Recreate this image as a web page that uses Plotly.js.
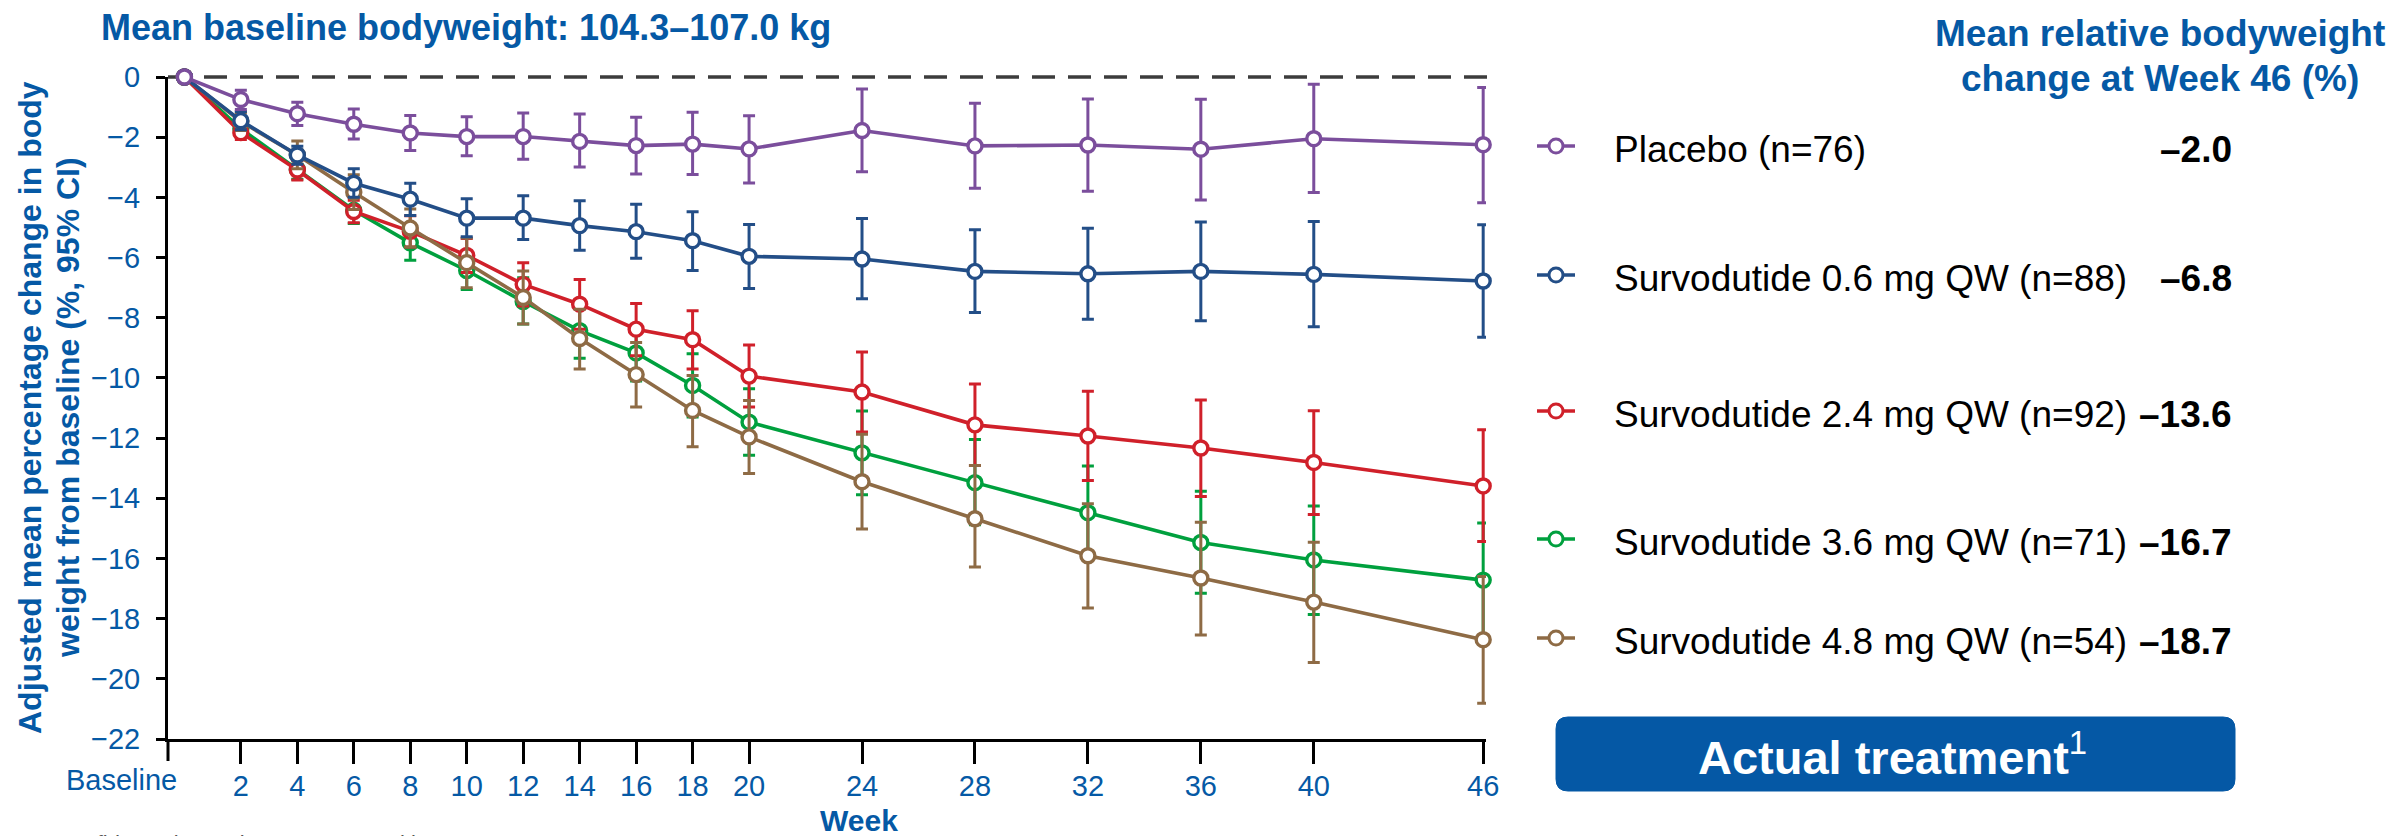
<!DOCTYPE html>
<html>
<head>
<meta charset="utf-8">
<script src="https://cdn.plot.ly/plotly-3.0.1.min.js"></script>
<style>html,body{margin:0;padding:0;background:#fff;}#chart{width:2407px;height:836px;}</style>
</head>
<body>
<div id="chart"></div>
<script>
// ---------------- data ----------------
const weeks = [0, 2, 4, 6, 8, 10, 12, 14, 16, 18, 20, 24, 28, 32, 36, 40, 46];

const placeboMean  = [0, -0.75, -1.22, -1.57, -1.86, -1.98, -1.98, -2.14, -2.28, -2.23, -2.39, -1.78, -2.29, -2.26, -2.40, -2.05, -2.25];
const placeboUpper = [null, -0.44, -0.84, -1.06, -1.28, -1.32, -1.20, -1.23, -1.34, -1.17, -1.29, -0.40, -0.87, -0.73, -0.74, -0.24, -0.35];
const placeboLower = [null, -1.08, -1.61, -2.06, -2.44, -2.62, -2.73, -2.99, -3.22, -3.24, -3.52, -3.15, -3.70, -3.80, -4.09, -3.84, -4.18];

const dose06Mean  = [0, -1.45, -2.59, -3.53, -4.06, -4.69, -4.69, -4.94, -5.14, -5.44, -5.96, -6.05, -6.46, -6.54, -6.46, -6.56, -6.78];
const dose06Upper = [null, -1.15, -2.30, -3.05, -3.53, -4.05, -3.95, -4.11, -4.23, -4.48, -4.90, -4.70, -5.08, -5.03, -4.82, -4.80, -4.91];
const dose06Lower = [null, -1.75, -2.90, -4.00, -4.60, -5.31, -5.40, -5.76, -6.02, -6.43, -7.03, -7.37, -7.83, -8.05, -8.10, -8.30, -8.65];

const dose24Mean  = [0, -1.85, -3.09, -4.47, -5.13, -5.93, -6.89, -7.55, -8.38, -8.73, -9.94, -10.47, -11.56, -11.93, -12.33, -12.81, -13.59];
const dose24Upper = [null, -1.62, -2.78, -4.10, -4.61, -5.37, -6.17, -6.73, -7.53, -7.77, -8.91, -9.14, -10.20, -10.44, -10.73, -11.09, -11.72];
const dose24Lower = [null, -2.08, -3.42, -4.84, -5.65, -6.50, -7.61, -8.38, -9.26, -9.70, -10.97, -11.80, -12.91, -13.41, -13.94, -14.54, -15.44];

const dose36Mean  = [0, -1.72, -3.07, -4.43, -5.51, -6.43, -7.46, -8.43, -9.17, -10.25, -11.47, -12.49, -13.48, -14.48, -15.47, -16.05, -16.72];
const dose36Upper = [null, -1.47, -2.75, -3.97, -4.96, -5.84, -6.67, -7.55, -8.25, -9.20, -10.36, -11.10, -12.05, -12.93, -13.77, -14.26, -14.82];
const dose36Lower = [null, -1.97, -3.40, -4.87, -6.09, -7.06, -8.21, -9.35, -10.10, -11.30, -12.57, -13.88, -14.88, -16.05, -17.16, -17.86, -18.62];

const dose48Mean  = [0, -1.48, -2.59, -3.83, -5.02, -6.17, -7.33, -8.69, -9.89, -11.08, -11.96, -13.45, -14.68, -15.91, -16.65, -17.45, -18.70];
const dose48Upper = [null, -1.18, -2.13, -3.25, -4.39, -5.35, -6.45, -7.72, -8.82, -9.92, -10.75, -11.87, -12.91, -14.18, -14.80, -15.46, -16.60];
const dose48Lower = [null, -1.78, -3.05, -4.40, -5.65, -7.00, -8.21, -9.70, -10.97, -12.29, -13.18, -15.02, -16.28, -17.65, -18.54, -19.46, -20.81];

const groupNames   = ['Placebo (n=76)', 'Survodutide 0.6 mg QW (n=88)', 'Survodutide 2.4 mg QW (n=92)', 'Survodutide 3.6 mg QW (n=71)', 'Survodutide 4.8 mg QW (n=54)'];
const week46Labels = ['\u20132.0', '\u20136.8', '\u201313.6', '\u201316.7', '\u201318.7'];
const groupColors  = ['#7B4E9C', '#234E87', '#D0202A', '#00A03E', '#8E6B45'];

const xTickVals  = [2, 4, 6, 8, 10, 12, 14, 16, 18, 20, 24, 28, 32, 36, 40, 46];
const yTickVals  = [0, -2, -4, -6, -8, -10, -12, -14, -16, -18, -20, -22];

// ---------------- geometry ----------------
const FW = 2407, FH = 836;
const L = 168, R = 1486, T = 77, B = 739;
const W = R - L, H = B - T;
const PX = px => (px - L) / W;
const PY = py => (B - py) / H;
const X0 = -0.58, X1 = 46.1;

const BLUE = '#0559A5';
const FONT = 'Liberation Sans, Arial, Helvetica, sans-serif';

const series = [
  {mean: placeboMean, up: placeboUpper, lo: placeboLower, idx: 0},
  {mean: dose06Mean,  up: dose06Upper,  lo: dose06Lower,  idx: 1},
  {mean: dose24Mean,  up: dose24Upper,  lo: dose24Lower,  idx: 2},
  {mean: dose36Mean,  up: dose36Upper,  lo: dose36Lower,  idx: 3},
  {mean: dose48Mean,  up: dose48Upper,  lo: dose48Lower,  idx: 4}
];
const drawOrder = [3, 2, 4, 1, 0];

const traces = drawOrder.map(i => {
  const s = series[i];
  const c = groupColors[s.idx];
  return {
    type: 'scatter', mode: 'lines+markers',
    x: weeks, y: s.mean, name: groupNames[s.idx],
    cliponaxis: false,
    line: {color: c, width: 3.6},
    marker: {symbol: 'circle', size: 14, color: '#ffffff', line: {color: c, width: 3.4}},
    error_y: {
      type: 'data', symmetric: false,
      array: s.mean.map((m, k) => s.up[k] === null ? null : +(s.up[k] - m).toFixed(3)),
      arrayminus: s.mean.map((m, k) => s.lo[k] === null ? null : +(m - s.lo[k]).toFixed(3)),
      color: c, thickness: 3, width: 6
    },
    hoverinfo: 'skip'
  };
});

// ---------------- shapes ----------------
const shapes = [];
// zero reference line
shapes.push({type: 'line', xref: 'paper', yref: 'paper', x0: PX(L), x1: PX(1497), y0: 1, y1: 1,
  line: {color: '#3c3c3c', width: 3.5, dash: '23px,13px'}, layer: 'below'});
// baseline tick on the week axis
shapes.push({type: 'line', xref: 'paper', yref: 'paper', x0: 0, x1: 0, y0: 0, y1: PY(B + 22),
  line: {color: '#000000', width: 3}});

// legend glyphs
const legY = [146, 275, 411, 539, 638];
groupNames.forEach((n, i) => {
  shapes.push({type: 'line', xref: 'paper', yref: 'paper', x0: PX(1537), x1: PX(1575), y0: PY(legY[i]), y1: PY(legY[i]),
    line: {color: groupColors[i], width: 3.4}});
  shapes.push({type: 'circle', xref: 'paper', yref: 'paper', xsizemode: 'pixel', ysizemode: 'pixel',
    xanchor: PX(1556), yanchor: PY(legY[i]), x0: -7, x1: 7, y0: -7, y1: 7,
    fillcolor: '#ffffff', line: {color: groupColors[i], width: 3}});
});

// rounded button
(function () {
  const x0 = 1556, x1 = 2235, y0 = 717, y1 = 791, r = 12;
  const p = (x, y) => PX(x) + ',' + PY(y);
  const path = 'M ' + p(x0 + r, y0) + ' L ' + p(x1 - r, y0) + ' Q ' + p(x1, y0) + ' ' + p(x1, y0 + r) +
    ' L ' + p(x1, y1 - r) + ' Q ' + p(x1, y1) + ' ' + p(x1 - r, y1) +
    ' L ' + p(x0 + r, y1) + ' Q ' + p(x0, y1) + ' ' + p(x0, y1 - r) +
    ' L ' + p(x0, y0 + r) + ' Q ' + p(x0, y0) + ' ' + p(x0 + r, y0) + ' Z';
  shapes.push({type: 'path', xref: 'paper', yref: 'paper', path: path, fillcolor: '#0558A5', line: {color: '#0558A5', width: 1}});
})();

// ---------------- annotations ----------------
const ann = [];
const txt = (text, px, py, opts) => Object.assign({
  text: text, xref: 'paper', yref: 'paper', x: PX(px), y: PY(py), showarrow: false,
  xanchor: 'center', yanchor: 'middle', font: {family: FONT, size: 28, color: BLUE}
}, opts || {});

ann.push(txt('<b>Mean baseline bodyweight: 104.3\u2013107.0 kg</b>', 99, 27, {xanchor: 'left', font: {family: FONT, size: 36, color: BLUE}}));
ann.push(txt('<b>Mean relative bodyweight</b>', 2160, 33, {font: {family: FONT, size: 37, color: BLUE}}));
ann.push(txt('<b>change at Week 46 (%)</b>', 2160, 78, {font: {family: FONT, size: 37, color: BLUE}}));

groupNames.forEach((n, i) => {
  ann.push(txt(n, 1612, legY[i] + 3, {xanchor: 'left', font: {family: FONT, size: 37, color: '#000000'}}));
  ann.push(txt('<b>' + week46Labels[i] + '</b>', 2234, legY[i] + 3, {xanchor: 'right', font: {family: FONT, size: 37, color: '#000000'}}));
});

ann.push(txt('<b>Actual treatment</b><sup>1</sup>', 1892, 754, {font: {family: FONT, size: 47, color: '#ffffff'}}));
ann.push(txt('Baseline', 121, 780, {font: {family: FONT, size: 29, color: BLUE}}));
ann.push(txt('<b>Week</b>', 859, 820, {font: {family: FONT, size: 30, color: BLUE}}));
ann.push(txt('<b>Adjusted mean percentage change in body</b>', 30, 408, {textangle: -90, font: {family: FONT, size: 32, color: BLUE}}));
ann.push(txt('<b>weight from baseline (%, 95% CI)</b>', 68, 408, {textangle: -90, font: {family: FONT, size: 32, color: BLUE}}));
ann.push(txt('CI, confidence interval; QW, once weekly.', 25, 829, {xanchor: 'left', yanchor: 'top', font: {family: FONT, size: 22, color: '#555555'}}));

// ---------------- layout ----------------
const layout = {
  width: FW, height: FH,
  margin: {l: L, r: FW - R, t: T, b: FH - B, pad: 0},
  paper_bgcolor: '#ffffff', plot_bgcolor: '#ffffff',
  showlegend: false,
  xaxis: {
    range: [X0, X1], tickmode: 'array',
    tickvals: xTickVals, ticktext: xTickVals.map(String),
    showline: true, linecolor: '#000000', linewidth: 3,
    ticks: 'outside', ticklen: 22, tickwidth: 3, tickcolor: '#000000',
    tickfont: {family: FONT, size: 29, color: BLUE}, ticklabelstandoff: -3,
    showgrid: false, zeroline: false, fixedrange: true
  },
  yaxis: {
    range: [-22, 0], tickmode: 'array', tickvals: yTickVals,
    showline: true, linecolor: '#000000', linewidth: 3,
    ticks: 'outside', ticklen: 9, tickwidth: 3, tickcolor: '#000000',
    tickfont: {family: FONT, size: 29, color: BLUE}, ticklabelstandoff: 10,
    showgrid: false, zeroline: false, fixedrange: true
  },
  shapes: shapes,
  annotations: ann
};

Plotly.newPlot('chart', traces, layout, {staticPlot: true, displayModeBar: false});
</script>
</body>
</html>
